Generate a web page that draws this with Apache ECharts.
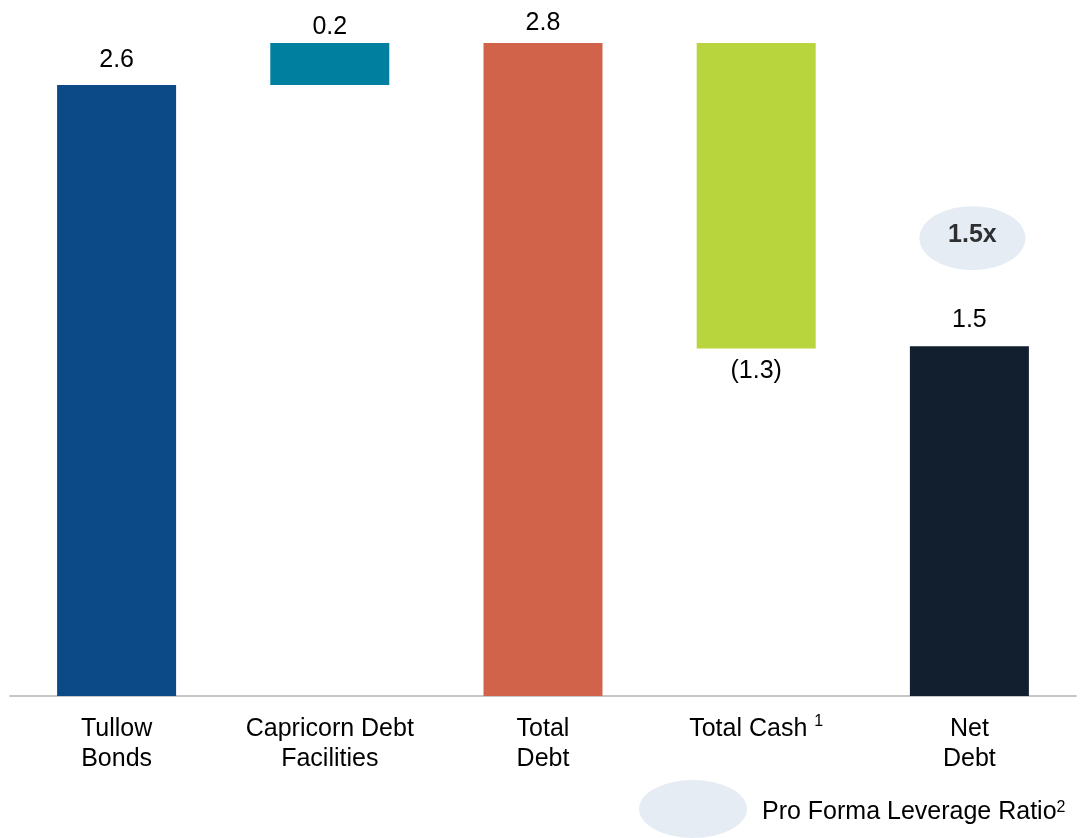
<!DOCTYPE html>
<html>
<head>
<meta charset="utf-8">
<script src="https://cdn.jsdelivr.net/npm/echarts@6/dist/echarts.min.js"></script>
<style>
html,body{margin:0;padding:0;background:#fff;}
#chart{width:1084px;height:838px;}
</style>
</head>
<body>
<div id="chart"></div>
<script>
// ---- data ----
const categories = ['Tullow\nBonds', 'Capricorn Debt\nFacilities', 'Total\nDebt', 'Total Cash', 'Net\nDebt'];
const barValues = [2.62, 0.18, 2.8, -1.31, 1.5];     // US$ bn
const isTotal = [false, false, true, false, true];
const valueLabels = ['2.6', '0.2', '2.8', '(1.3)', '1.5'];
const barColors = ['#0B4A87', '#00809E', '#D0634A', '#B9D53E', '#121F2F'];
const leverageRatio = ['-', '-', '-', '-', 1.5];
const leverageLabels = ['', '', '', '', '1.5x'];
const legendName = 'Pro Forma Leverage Ratio';

// ---- styling (label gaps per bar) ----
const labelGap = [12, 3, 7, 10, 14];

// ---- build waterfall (invisible base + visible bar) ----
let running = 0;
const bases = [], heights = [];
barValues.forEach((v, i) => {
  if (isTotal[i]) { bases.push(0); heights.push(v); running = v; }
  else if (v >= 0) { bases.push(running); heights.push(v); running += v; }
  else { running += v; bases.push(running); heights.push(-v); }
});

const FONT = "'Liberation Sans', Arial, sans-serif";
const FS = 25;
const ellipsePath = 'path://M0,50 A50,50 0 1,1 100,50 A50,50 0 1,1 0,50 Z';

const chart = echarts.init(document.getElementById('chart'), null, {renderer: 'canvas'});
chart.setOption({
  animation: false,
  backgroundColor: '#ffffff',
  textStyle: {fontFamily: FONT},
  grid: {left: 10, right: 8, top: 43, bottom: 142, containLabel: false},
  legend: {
    show: true,
    left: 634, top: 775,
    itemWidth: 108, itemHeight: 58,
    symbolKeepAspect: false,
    selectedMode: false,
    data: [{name: legendName, icon: ellipsePath, itemStyle: {color: '#E0E7F0'}}],
    formatter: n => n + '{sup|2}',
    textStyle: {
      fontFamily: FONT, fontSize: FS, color: '#000', padding: [6, 0, 0, 10],
      rich: {sup: {fontFamily: FONT, fontSize: 16, color: '#000', verticalAlign: 'top', lineHeight: 25}}
    }
  },
  xAxis: {
    type: 'category',
    data: categories,
    axisLine: {lineStyle: {color: '#C6C6C6', width: 2}},
    axisTick: {show: false},
    axisLabel: {
      interval: 0, fontSize: FS, lineHeight: 30, color: '#000', margin: 18, fontFamily: FONT,
      formatter: v => v === 'Total Cash' ? 'Total Cash {sup|1}' : v,
      rich: {sup: {fontFamily: FONT, fontSize: 16, color: '#000', verticalAlign: 'top', lineHeight: 30}}
    }
  },
  yAxis: {type: 'value', min: 0, max: 2.8, show: false, splitLine: {show: false}},
  series: [
    {
      type: 'bar', stack: 'w', barWidth: 119, silent: true,
      itemStyle: {color: 'transparent'},
      data: bases
    },
    {
      type: 'bar', stack: 'w', barWidth: 119,
      data: heights.map((h, i) => ({
        value: h,
        itemStyle: {color: barColors[i]},
        label: {position: barValues[i] < 0 ? 'bottom' : 'top', distance: labelGap[i]}
      })),
      label: {
        show: true, fontSize: FS, color: '#000', fontFamily: FONT,
        formatter: p => valueLabels[p.dataIndex]
      }
    },
    {
      name: legendName,
      type: 'scatter',
      symbol: ellipsePath,
      symbolSize: [106, 64],
      symbolOffset: [3, -108],
      itemStyle: {color: '#E0E7F0'},
      z: 1,
      data: leverageRatio,
      label: {
        show: true, position: 'inside', offset: [0, -3],
        fontSize: FS, fontWeight: 'bold', color: '#000000', fontFamily: FONT,
        formatter: p => leverageLabels[p.dataIndex]
      }
    }
  ]
});
</script>
</body>
</html>
